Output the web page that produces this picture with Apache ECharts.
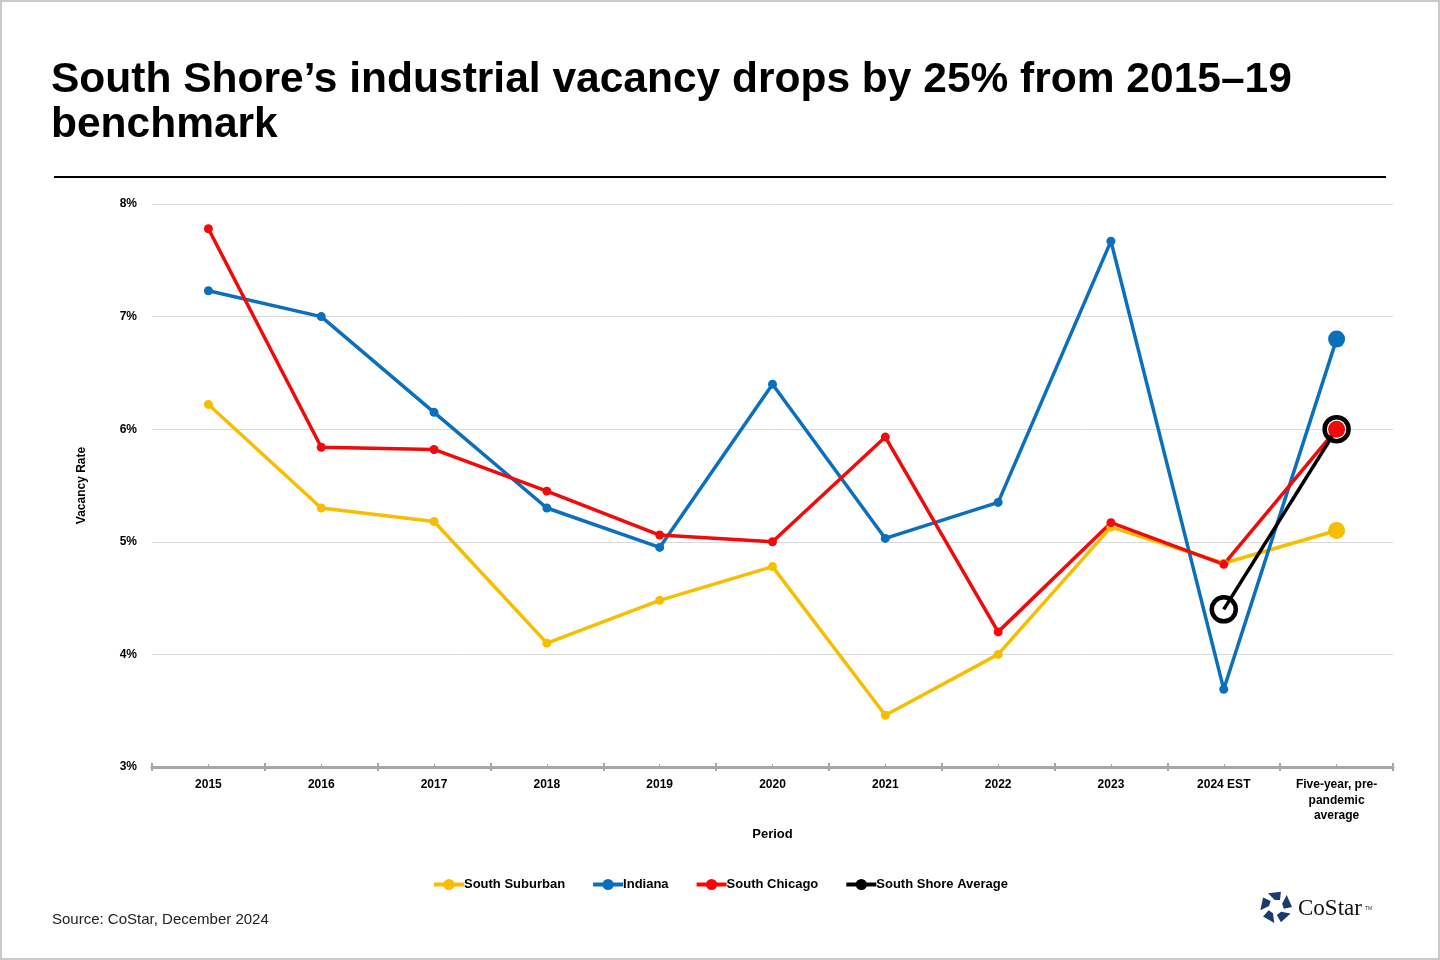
<!DOCTYPE html>
<html lang="en">
<head>
    <meta charset="UTF-8">
    <title>South Shore industrial vacancy</title>
    <style>
        * {
            padding: 0;
            margin: 0;
        }

        .EC {
            width: 1440px;
            height: 960px;
            background: #fff;
        }
    </style>
    <script src="https://cdn.jsdelivr.net/npm/echarts@6.0.0/dist/echarts.min.js"></script>
</head>
<body>
<div class="EC"></div>
<script>
    // data
    const categories = ['2015', '2016', '2017', '2018', '2019', '2020', '2021', '2022', '2023', '2024 EST',
        'Five-year, pre-\npandemic\naverage']
    const southSuburban = [6.22, 5.30, 5.18, 4.10, 4.48, 4.78, 3.46, 4.00, 5.13, 4.81, 5.10]
    const indiana = [7.23, 7.00, 6.15, 5.30, 4.95, 6.40, 5.03, 5.35, 7.67, 3.69, 6.80]
    const southChicago = [7.78, 5.84, 5.82, 5.45, 5.06, 5.00, 5.93, 4.20, 5.17, 4.80, 6.00]
    const southShoreAvg = [null, null, null, null, null, null, null, null, null, 4.40, 6.00]

    window.onload = () => {
        let EC = echarts.init(document.querySelector('.EC'))
        const lastIdx = categories.length - 1
        const axisGray = '#a6a6a6'
        const font = 'Liberation Sans, Arial, sans-serif'

        // small points, bigger dot on the five-year average
        const dotSize = (v, p) => p.dataIndex === lastIdx ? 17 : 9

        const lineSeries = (name, data, color) => ({
            name: name,
            type: 'line',
            data: data,
            symbol: 'circle',
            symbolSize: dotSize,
            lineStyle: {width: 3.5, color: color},
            itemStyle: {color: color},
            emphasis: {disabled: true}
        })

        // CoStar mark - five wedges around a centre
        let logo = []
        const cx = 1276, cy = 906
        for (let k = 0; k < 5; k++) {
            const a = (k * 72 - 90) * Math.PI / 180
            const pt = (r, d) => [cx + r * Math.cos(a + d * Math.PI / 180), cy + r * Math.sin(a + d * Math.PI / 180)]
            logo.push({
                type: 'polygon',
                shape: {points: [pt(16, -30), pt(16, 18), pt(8, 30), pt(7, -10)]},
                style: {fill: '#1d3a6d'}
            })
        }

        let option = {
            animation: false,
            backgroundColor: '#fff',
            title: {
                text: 'South Shore\u2019s industrial vacancy drops by 25% from 2015\u201319\nbenchmark',
                left: 51,
                top: 58,
                padding: 0,
                textStyle: {
                    fontFamily: font,
                    fontSize: 42.5,
                    lineHeight: 45,
                    fontWeight: 'bold',
                    color: '#000'
                }
            },
            legend: {
                left: 'center',
                top: 873,
                itemWidth: 30,
                itemHeight: 14,
                itemGap: 26,
                lineStyle: {width: 4},
                textStyle: {fontFamily: font, fontSize: 13, fontWeight: 'bold', color: '#000', padding: [0, 0, 0, -5]},
                data: [
                    {name: 'South Suburban'},
                    {name: 'Indiana'},
                    {name: 'South Chicago'},
                    {name: 'South Shore Average', itemStyle: {color: '#000', borderWidth: 0}}
                ]
            },
            grid: {
                left: 152,
                right: 47,
                top: 204,
                bottom: 193
            },
            xAxis: [
                {
                    type: 'category',
                    data: categories,
                    name: 'Period',
                    nameLocation: 'middle',
                    nameGap: 61,
                    nameTextStyle: {fontFamily: font, fontSize: 13, fontWeight: 'bold', color: '#000'},
                    axisLine: {lineStyle: {color: axisGray, width: 3}},
                    axisTick: {show: true, length: 4, lineStyle: {color: axisGray, width: 2}},
                    axisLabel: {
                        interval: 0,
                        margin: 10,
                        fontFamily: font,
                        fontSize: 12,
                        fontWeight: 'bold',
                        color: '#000',
                        lineHeight: 15.5
                    }
                },
                {
                    // ticks poking up through the axis line
                    type: 'category',
                    data: categories,
                    position: 'bottom',
                    axisLine: {show: false},
                    axisTick: {show: true, inside: true, length: 4, lineStyle: {color: axisGray, width: 2}},
                    axisLabel: {show: false},
                    splitLine: {show: false}
                },
                {
                    // little marks at the category centres
                    type: 'category',
                    data: categories,
                    position: 'bottom',
                    axisLine: {show: false},
                    axisTick: {show: true, alignWithLabel: true, inside: true, length: 3, lineStyle: {color: axisGray, width: 1}},
                    axisLabel: {show: false},
                    splitLine: {show: false}
                }
            ],
            yAxis: {
                type: 'value',
                min: 3,
                max: 8,
                interval: 1,
                name: 'Vacancy Rate',
                nameLocation: 'middle',
                nameGap: 64,
                nameTextStyle: {fontFamily: font, fontSize: 12, fontWeight: 'bold', color: '#000'},
                axisLine: {show: false},
                axisTick: {show: false},
                axisLabel: {
                    formatter: '{value}%',
                    margin: 15,
                    fontFamily: font,
                    fontSize: 12,
                    fontWeight: 'bold',
                    color: '#000'
                },
                splitLine: {lineStyle: {color: '#d9d9d9', width: 1}}
            },
            series: [
                lineSeries('South Suburban', southSuburban, '#f7bd00'),
                lineSeries('Indiana', indiana, '#0a6fbd'),
                lineSeries('South Chicago', southChicago, '#f20a0a'),
                {
                    name: 'South Shore Average',
                    type: 'line',
                    data: southShoreAvg,
                    symbol: 'circle',
                    symbolSize: 24,
                    lineStyle: {width: 3.5, color: '#000'},
                    itemStyle: {color: 'rgba(0,0,0,0)', borderColor: '#000', borderWidth: 4.5},
                    emphasis: {disabled: true}
                }
            ],
            graphic: [
                {
                    // frame round the picture
                    type: 'rect',
                    shape: {x: 1, y: 1, width: 1438, height: 958},
                    style: {fill: 'none', stroke: '#c9c9c9', lineWidth: 2}
                },
                {
                    type: 'line',
                    shape: {x1: 54, y1: 177, x2: 1386, y2: 177},
                    style: {stroke: '#000', lineWidth: 2}
                },
                {
                    type: 'text',
                    left: 52,
                    top: 912,
                    style: {text: 'Source: CoStar, December 2024', font: '15px ' + font, fill: '#222'}
                },
                {
                    type: 'text',
                    left: 1298,
                    top: 897,
                    style: {text: 'CoStar', font: '23px "Liberation Serif", "DejaVu Serif", serif', fill: '#111'}
                },
                {
                    type: 'text',
                    left: 1365,
                    top: 906,
                    style: {text: 'TM', font: '5px ' + font, fill: '#333'}
                }
            ].concat(logo.map(p => {
                p.shape.points = p.shape.points.map(q => [q[0], q[1] + 1])
                return p
            }))
        }
        EC.setOption(option)
    }
</script>
</body>
</html>
